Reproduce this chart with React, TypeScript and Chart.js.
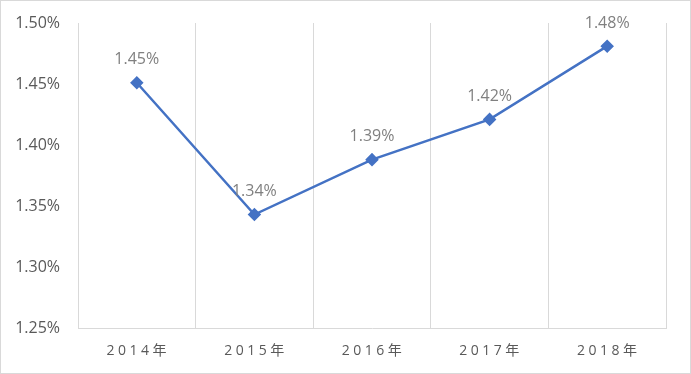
import React, { useEffect, useRef } from "react";
import { Chart, registerables } from "chart.js";

Chart.register(...registerables);

const categories: string[] = ["2014年", "2015年", "2016年", "2017年", "2018年"];
const values: number[] = [1.451, 1.343, 1.388, 1.421, 1.481];
const valueLabels: string[] = ["1.45%", "1.34%", "1.39%", "1.42%", "1.48%"];
const yTicks: number[] = [1.25, 1.3, 1.35, 1.4, 1.45, 1.5];

const FONT = "'Open Sans', 'Noto Sans CJK SC', sans-serif";

const customPlugin = {
  id: "customLabels",
  afterDatasetsDraw(chart: any) {
    const ctx = chart.ctx as CanvasRenderingContext2D;
    const meta = chart.getDatasetMeta(0);
    ctx.save();
    ctx.fillStyle = "#808080";
    ctx.font = `16px ${FONT}`;
    ctx.textAlign = "center";
    ctx.textBaseline = "middle";
    meta.data.forEach((pt: any, i: number) => {
      ctx.fillText(valueLabels[i], pt.x, pt.y - 23);
    });
    ctx.restore();

    const xScale = chart.scales.x;
    ctx.save();
    ctx.fillStyle = "#595959";
    ctx.font = `14px ${FONT}`;
    (ctx as any).letterSpacing = "3.5px";
    ctx.textAlign = "center";
    ctx.textBaseline = "middle";
    categories.forEach((c, i) => {
      const x = xScale.getPixelForValue(i);
      ctx.fillText(c, x + 1.5, xScale.top + 23);
    });
    ctx.restore();
  },
};

export default function App() {
  const ref = useRef<HTMLCanvasElement>(null);
  useEffect(() => {
    document.body.style.margin = "0";
    const chart = new Chart(ref.current!, {
      type: "line",
      data: {
        labels: categories,
        datasets: [
          {
            data: values,
            borderColor: "#4472C4",
            backgroundColor: "#4472C4",
            borderWidth: 2.5,
            pointStyle: "rectRot",
            pointRadius: 5,
            pointHoverRadius: 5,
            tension: 0,
          },
        ],
      },
      options: {
        animation: false,
        responsive: false,
        maintainAspectRatio: false,
        events: [],
        layout: { padding: { left: 0, right: 24, top: 22, bottom: 0 } },
        plugins: {
          legend: { display: false },
          tooltip: { enabled: false },
        },
        scales: {
          x: {
            offset: true,
            grid: {
              offset: true,
              color: "#d9d9d9",
              drawTicks: false,
              lineWidth: 1,
            },
            border: { display: true, color: "#d9d9d9" },
            ticks: { color: "transparent", font: { size: 14 } },
            afterFit(scale: any) {
              scale.height = 45;
            },
          },
          y: {
            min: 1.25,
            max: 1.5,
            afterBuildTicks(scale: any) {
              scale.ticks = yTicks.map((v) => ({ value: v }));
            },
            grid: { display: false },
            border: { display: false },
            ticks: {
              color: "#595959",
              font: { size: 16, family: FONT },
              padding: 10,
              callback: (v: any) => Number(v).toFixed(2) + "%",
            },
            afterFit(scale: any) {
              scale.width = 77;
            },
          },
        },
      },
      plugins: [customPlugin],
    });
    return () => chart.destroy();
  }, []);

  return (
    <div
      style={{
        position: "absolute",
        left: 0,
        top: 0,
        width: 691,
        height: 374,
        boxSizing: "border-box",
        border: "1px solid #d9d9d9",
        background: "#fff",
        overflow: "hidden",
      }}
    >
      <canvas
        ref={ref}
        width={689}
        height={372}
        style={{ display: "block", width: 689, height: 372 }}
      />
    </div>
  );
}
